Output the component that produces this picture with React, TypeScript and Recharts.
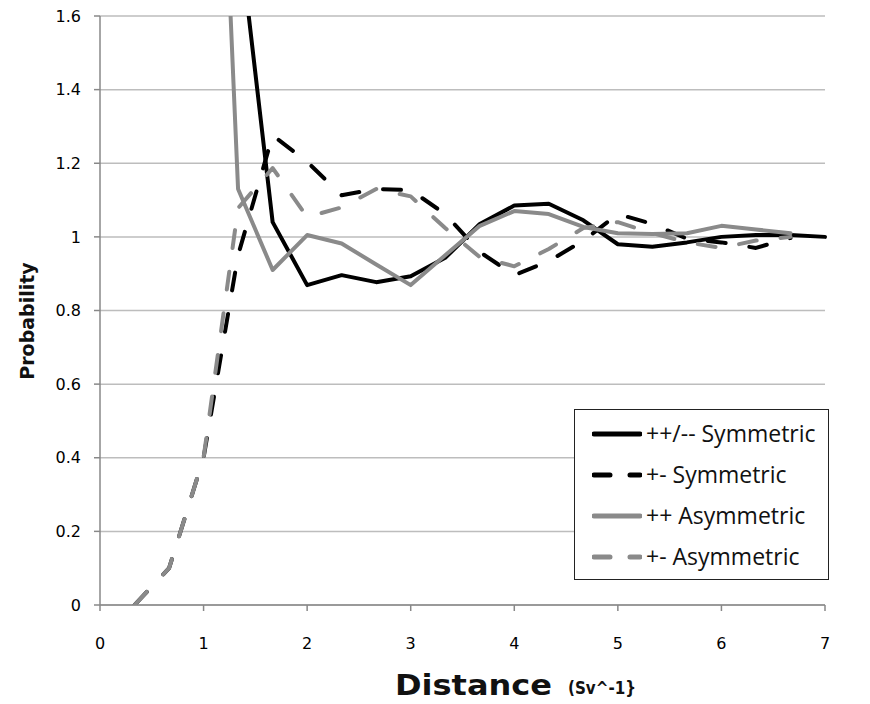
import React from 'react';
import { LineChart, Line, XAxis, YAxis, CartesianGrid } from 'recharts';

// distance bins (Sv^-1), one every third of a unit
const distance = [0, 0.333, 0.667, 1, 1.333, 1.667, 2, 2.333, 2.667, 3, 3.333, 3.667, 4, 4.333, 4.667, 5, 5.333, 5.667, 6, 6.333, 6.667, 7];

// probability per bin for each pairing
const symSame = [null, null, null, null, 1.85, 1.04, 0.869, 0.896, 0.877, 0.893, 0.943, 1.035, 1.085, 1.09, 1.045, 0.98, 0.973, 0.985, 1.0, 1.005, 1.005, 1.0];
const symOpp = [null, 0, 0.1, 0.4, 0.95, 1.276, 1.204, 1.113, 1.13, 1.127, 1.062, 0.959, 0.896, 0.934, 0.99, 1.062, 1.035, 0.995, 0.985, 0.97, 0.997, null];
const asymSame = [null, null, null, 3.3, 1.13, 0.91, 1.005, 0.982, 0.925, 0.869, 0.95, 1.03, 1.07, 1.062, 1.027, 1.01, 1.008, 1.01, 1.03, 1.02, 1.01, null];
const asymOpp = [null, 0, 0.1, 0.4, 1.078, 1.187, 1.054, 1.08, 1.13, 1.11, 1.024, 0.945, 0.92, 0.967, 1.024, 1.04, 1.01, 0.985, 0.97, 0.99, 1.0, null];

const xTicks = [0, 1, 2, 3, 4, 5, 6, 7];
const yTicks = [0, 0.2, 0.4, 0.6, 0.8, 1, 1.2, 1.4, 1.6];

const data = distance.map((d, i) => ({
  x: d,
  symSame: symSame[i],
  symOpp: symOpp[i],
  asymSame: asymSame[i],
  asymOpp: asymOpp[i],
}));

const DASH = '18 24';

const series = [
  { key: 'symSame', name: '++/-- Symmetric', color: '#000000', dash: undefined },
  { key: 'symOpp', name: '+- Symmetric', color: '#000000', dash: DASH },
  { key: 'asymSame', name: '++ Asymmetric', color: '#8a8a8a', dash: undefined },
  { key: 'asymOpp', name: '+- Asymmetric', color: '#8a8a8a', dash: DASH },
];

const tickFont = { fontFamily: 'DejaVu Sans', fontSize: 16, fill: '#000' };

// legend box sits over the lower right of the plot
const LegendBox = () => (
  <div
    style={{
      position: 'absolute',
      left: 574,
      top: 409,
      border: '1.5px solid #222',
      background: '#fff',
      width: 255,
      height: 171,
      boxSizing: 'border-box',
      padding: '3px 0 0 17px',
    }}
  >
    {series.map((s) => (
      <div key={s.key} style={{ display: 'flex', alignItems: 'center', height: 41 }}>
        <svg width={50} height={10}>
          <line
            x1={2}
            y1={5}
            x2={48}
            y2={5}
            stroke={s.color}
            strokeWidth={5}
            strokeDasharray={s.dash ? '16 20' : undefined}
            strokeLinecap="round"
          />
        </svg>
        <span style={{ fontFamily: 'Open Sans', fontSize: 23, color: '#111', marginLeft: 4, lineHeight: '41px' }}>
          {s.name}
        </span>
      </div>
    ))}
  </div>
);

const App: React.FC = () => {
  return (
    <div style={{ position: 'absolute', left: 0, top: 0, width: 870, height: 704, background: '#fff' }}>
      <LineChart width={870} height={704} data={data} margin={{ top: 16, right: 45, bottom: 69, left: 0 }}>
        <CartesianGrid vertical={false} stroke="#bdbdbd" strokeWidth={1.5} />
        <XAxis
          type="number"
          dataKey="x"
          domain={[0, 7]}
          ticks={xTicks}
          height={30}
          stroke="#888"
          strokeWidth={1.5}
          tickSize={6}
          tickMargin={27}
          tick={tickFont}
          label={{
            value: 'Distance',
            content: () => (
              <g fontFamily="DejaVu Sans" fontWeight="bold" fill="#111">
                <text x={395} y={695} fontSize={28} textLength={157} lengthAdjust="spacingAndGlyphs">
                  Distance
                </text>
                <text x={568} y={694} fontSize={17} textLength={68} lengthAdjust="spacingAndGlyphs">
                  {'(Sv^-1}'}
                </text>
              </g>
            ),
          }}
        />
        <YAxis
          type="number"
          domain={[0, 1.6]}
          ticks={yTicks}
          allowDataOverflow
          width={100}
          stroke="#888"
          strokeWidth={1.5}
          tickSize={6}
          tickMargin={13}
          tick={tickFont}
          label={{
            value: 'Probability',
            content: () => (
              <text
                x={27}
                y={321}
                transform="rotate(-90 27 321)"
                textAnchor="middle"
                dominantBaseline="central"
                fontFamily="DejaVu Sans"
                fontWeight="bold"
                fontSize={19}
                fill="#111"
              >
                Probability
              </text>
            ),
          }}
        />
        {series.map((s) => (
          <Line
            key={s.key}
            type="linear"
            dataKey={s.key}
            name={s.name}
            stroke={s.color}
            strokeWidth={4}
            strokeDasharray={s.dash}
            strokeLinecap="round"
            strokeLinejoin="round"
            dot={false}
            activeDot={false}
            isAnimationActive={false}
          />
        ))}
      </LineChart>
      <LegendBox />
    </div>
  );
};

export default App;
